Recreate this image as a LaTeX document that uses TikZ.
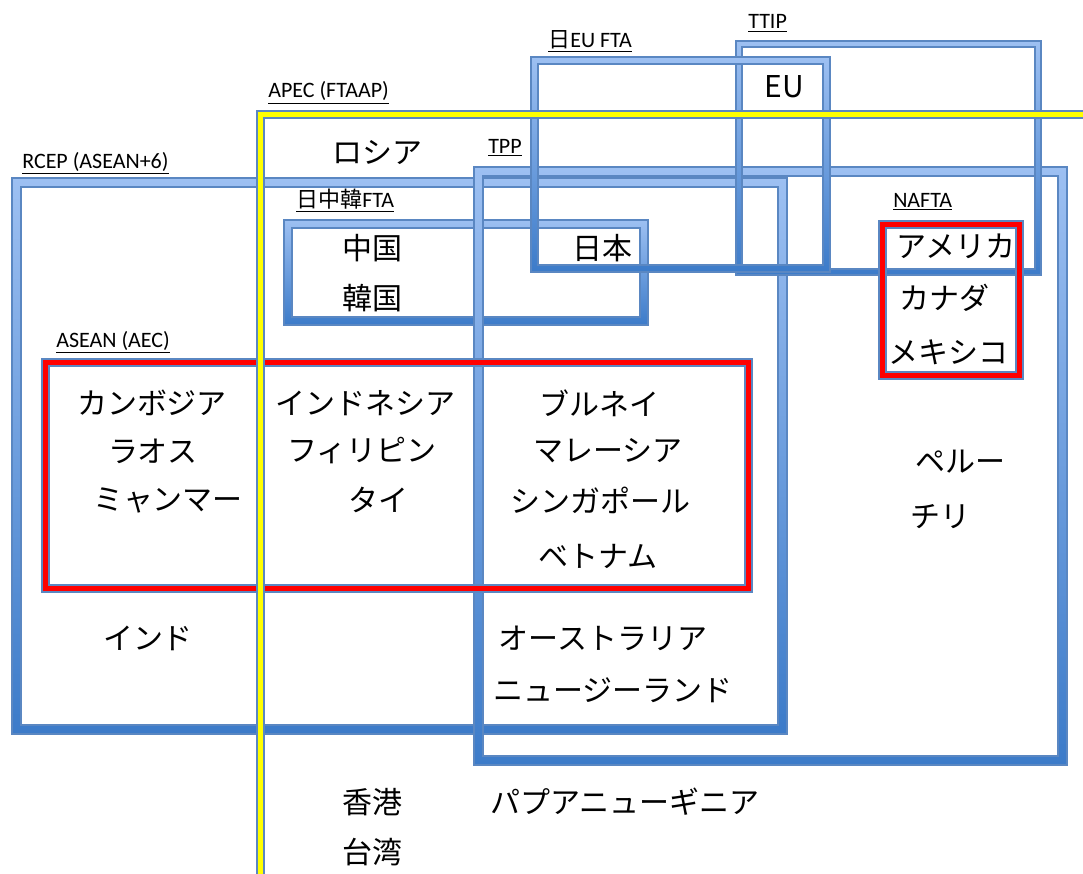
\documentclass[tikz,border=0pt]{standalone}
\usepackage{fontspec}
\setmainfont{Noto Sans CJK JP}
\newfontfamily\labfont{Carlito}
\newfontfamily\cjkfont{Noto Sans CJK JP}
\newcommand{\jpc}[1]{{\cjkfont #1}}
\usepackage{xcolor}
\usepackage{tikz}
\definecolor{ftatop}{HTML}{9DC0F2}
\definecolor{ftabot}{HTML}{3C7BC9}
\definecolor{ftaedge}{HTML}{5A87C2}
\definecolor{aseanred}{HTML}{FF0000}
\definecolor{apecyel}{HTML}{FFFF00}
\tikzset{
  bluefr/.style={top color=ftatop, bottom color=ftabot, even odd rule, draw=ftaedge, line width=0.8pt},
  redfr/.style={fill=aseanred, even odd rule, draw=ftaedge, line width=0.8pt},
  yelfr/.style={fill=apecyel, even odd rule, draw=ftaedge, line width=0.8pt},
  cty/.style={font=\fontsize{22.5}{25}\selectfont, inner sep=0pt},
  grp/.style={font=\labfont\fontsize{16.5}{18}\selectfont, anchor=base west, inner sep=0pt},
}

\begin{document}
\begin{tikzpicture}[x=0.75pt, y=-0.75pt]
  \useasboundingbox (0,0) rectangle (1083,874);
  \clip (0,0) rectangle (1083,874);
  % blue agreements: RCEP, JCK FTA, TPP, TTIP, Japan-EU
  \foreach \l/\t/\r/\b/\w in {12/178/787/734/9, 284/220/648/325/8, 474/167/1067/765/9,
                              736/41/1041/275/6, 531/57/830/272/7}
    \path[bluefr] (\l,\t) rectangle (\r,\b) (\l+\w,\t+\w) rectangle (\r-\w,\b-\w);
  % NAFTA, ASEAN
  \foreach \l/\t/\r/\b/\w in {879/221/1023/379/7, 42/359/752/592/7}
    \path[redfr] (\l,\t) rectangle (\r,\b) (\l+\w,\t+\w) rectangle (\r-\w,\b-\w);
  % APEC runs off the page
  \path[yelfr] (257,111) rectangle (1100,900) (264,118) rectangle (1093,893);
  \foreach \name/\x/\y/\txt in {rcep/22/168/RCEP (ASEAN+6), apec/268/98/APEC (FTAAP),
      jeu/548/48/\jpc{日}EU FTA, ttip/748/29/TTIP, tpp/488/153/TPP,
      jck/296/208/\jpc{日中韓}FTA, nafta/893/207/NAFTA, asean/56/347/ASEAN (AEC)}
    \node[grp] (\name) at (\x,\y) {\underline{\txt}};
  \foreach \name/\x/\y/\txt in {rus/377/153/ロシア, eu/784/87/EU, chn/372/248/中国,
      kor/372/298/韓国, jpn/602/248/日本, usa/956/246/アメリカ, can/944/298/カナダ,
      mex/948/352/メキシコ, khm/152/403/カンボジア, lao/153/451/ラオス,
      mmr/168/500/ミャンマー, idn/365/403/インドネシア, phl/362/451/フィリピン,
      tha/378/500/タイ, brn/599/403/ブルネイ, mys/608/451/マレーシア,
      sgp/600/500/シンガポール, vnm/598/556/ベトナム, per/960/462/ペルー,
      chl/940/517/チリ, ind/148/638/インド, aus/603/638/オーストラリア,
      nzl/613/690/ニュージーランド, hkg/372/802/香港, twn/372/852/台湾,
      png/625/802/パプアニューギニア}
    \node[cty] (\name) at (\x,\y) {\txt};
\end{tikzpicture}
\end{document}
